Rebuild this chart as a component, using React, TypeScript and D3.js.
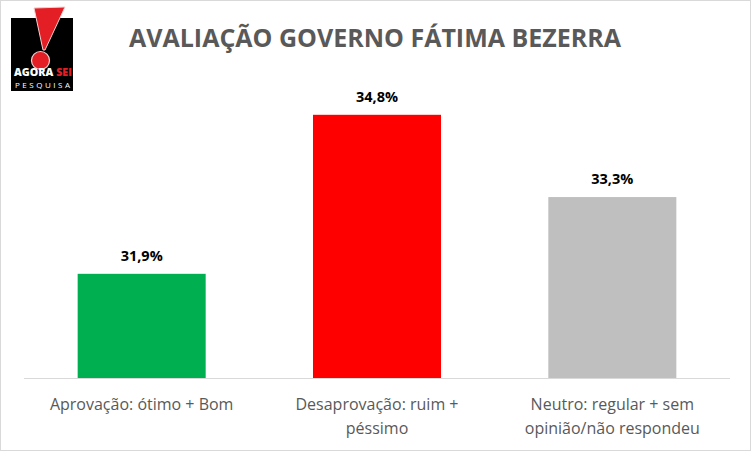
import React from "react";
import * as d3 from "d3";

const categories = ["Aprovação: ótimo + Bom", "Desaprovação: ruim + péssimo", "Neutro: regular + sem opinião/não respondeu"];
const labelLines = [["Aprovação: ótimo + Bom"], ["Desaprovação: ruim +", "péssimo"], ["Neutro: regular + sem", "opinião/não respondeu"]];
const values = [31.9, 34.8, 33.3];
const valueLabels = ["31,9%", "34,8%", "33,3%"];
const colors = ["#00B050", "#FF0000", "#BFBFBF"];
const title = "AVALIAÇÃO GOVERNO FÁTIMA BEZERRA";

const W = 751, H = 451;
const FONT = "'Open Sans', 'DejaVu Sans', sans-serif";

export default function App() {
  const x = d3.scaleBand<string>().domain(categories).range([24, 730]).paddingInner(0.456).paddingOuter(0.228);
  const y = d3.scaleLinear().domain([30, 36]).range([378, 49]);
  return (
    <svg width={W} height={H} style={{ position: "absolute", left: 0, top: 0, background: "#fff" }}>
      <rect x={0.5} y={0.5} width={W - 1} height={H - 1} fill="#fff" stroke="#D9D9D9" />
      {/* logo */}
      <g>
        <rect x={11} y={18} width={62} height={73} fill="#000" />
        <path d="M34,8 L65,7 L45,50 L43,50 Z" fill="#E31E24" stroke="#f4d0d0" strokeWidth={1} />
        <circle cx={40.5} cy={60.5} r={9} fill="#E31E24" stroke="#f4d0d0" strokeWidth={1.2} />
        <text x={14} y={76} textLength={58} lengthAdjust="spacingAndGlyphs" fontFamily={FONT} fontWeight={800} fontSize={10} fill="#fff">AGORA <tspan fill="#E31E24">SEI</tspan></text>
        <text x={15} y={88} textLength={55} lengthAdjust="spacing" fontFamily={FONT} fontSize={8} fill="#fff">PESQUISA</text>
      </g>
      <text x={375} y={47} textAnchor="middle" fontFamily={FONT} fontWeight={700} fontSize={25} fill="#595959">{title}</text>
      {categories.map((c, i) => (
        <g key={c}>
          <rect x={x(c)} y={y(values[i])} width={x.bandwidth()} height={y(30) - y(values[i])} fill={colors[i]} />
          <text x={(x(c) as number) + x.bandwidth() / 2} y={y(values[i]) - 13} textAnchor="middle" fontFamily={FONT} fontWeight={700} fontSize={14.5} fill="#000">{valueLabels[i]}</text>
          {labelLines[i].map((l, j) => (
            <text key={j} x={(x(c) as number) + x.bandwidth() / 2} y={410 + j * 24} textAnchor="middle" fontFamily={FONT} fontWeight={500} fontSize={16} fill="#595959">{l}</text>
          ))}
        </g>
      ))}
      <line x1={24} x2={730} y1={378.5} y2={378.5} stroke="#D9D9D9" strokeWidth={1} />
    </svg>
  );
}
